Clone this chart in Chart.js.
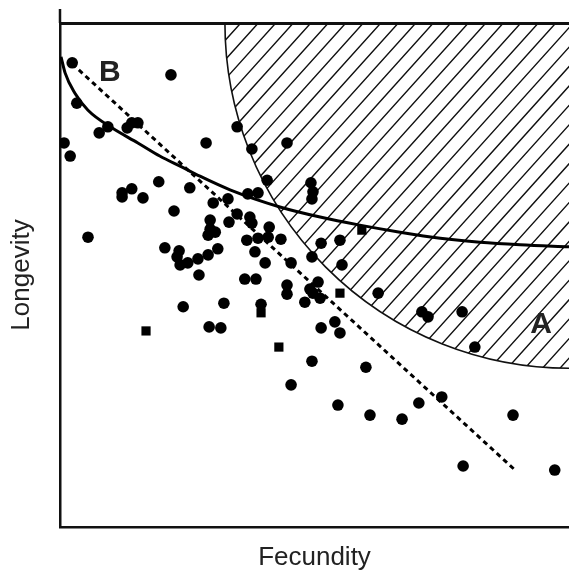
<!DOCTYPE html>
<html><head><meta charset="utf-8">
<script src="https://cdn.jsdelivr.net/npm/chart.js@4/dist/chart.umd.min.js"></script>
<style>html,body{margin:0;padding:0;background:#fff;overflow:hidden}#wrap{width:569px;height:573px}</style>
</head><body><div id="wrap"><canvas id="c" width="569" height="573"></canvas></div>
<script>
// Species (circles)
const circleFecundity = [0.24,2.18,0.33,0.08,0.20,0.77,0.94,1.32,1.41,1.53,3.48,2.87,4.46,3.77,4.07,1.94,2.55,1.22,1.22,1.41,1.63,3.69,3.89,4.93,4.97,4.95,3.01,3.30,2.24,0.55,2.95,2.95,3.05,2.91,3.32,3.48,3.73,3.77,4.11,3.67,3.89,4.09,4.34,2.06,2.34,2.30,2.51,2.36,2.71,2.91,3.10,3.83,4.03,4.54,2.73,3.63,3.85,4.46,4.46,5.13,5.50,4.95,5.54,4.91,5.07,4.97,4.81,5.11,6.25,2.42,3.22,3.95,2.93,3.16,5.40,5.13,5.50,4.95,6.01,4.54,5.46,6.09,6.72,7.05,7.50,7.11,7.23,7.90,8.15,8.90,7.92,9.72];
const circleLongevity = [9.21,8.97,8.41,7.62,7.36,7.82,7.94,7.92,8.02,8.02,7.94,7.62,7.62,7.50,6.88,6.85,6.73,6.63,6.55,6.71,6.53,6.61,6.63,6.83,6.65,6.51,6.43,6.51,6.27,5.75,6.09,5.91,5.85,5.79,6.05,6.21,6.15,6.03,5.95,5.69,5.73,5.75,5.71,5.54,5.48,5.36,5.24,5.20,5.32,5.40,5.52,5.46,5.24,5.24,5.00,4.92,4.92,4.80,4.62,5.63,5.69,5.36,5.20,4.72,4.86,4.64,4.46,4.54,4.64,4.37,4.44,4.42,3.97,3.95,4.07,3.95,3.85,3.29,3.17,2.82,2.42,2.22,2.14,2.46,2.58,4.27,4.17,4.27,3.57,2.22,1.21,1.13];
// Species (squares)
const squareFecundity = [5.93,5.50,3.95,1.69,4.30];
const squareLongevity = [5.89,4.64,4.25,3.89,3.57];
// Solid curve
const curveFecundity = [0.02,0.10,0.29,0.55,1.02,1.53,1.96,2.40,2.75,3.34,4.32,5.11,5.89,6.68,7.47,8.25,9.04,10.0];
const curveLongevity = [9.33,9.01,8.61,8.27,7.92,7.62,7.36,7.14,6.96,6.69,6.35,6.15,5.99,5.85,5.73,5.65,5.60,5.56];
// Dashed trend line end points
const trendFecundity = [0.24,8.94];
const trendLongevity = [9.19,1.13];
// Hatched region A (quarter ellipse at the top-right corner)
const regionA = {cx:10, cy:10, rx:6.76, ry:6.85};
// Region labels
const regionLabelText = ['A','B'];
const regionLabelX = [9.45,0.98];
const regionLabelY = [4.01,9.01];

const zip = (xs, ys) => xs.map((v,i)=>({x:v, y:ys[i]}));

const hatchPlugin = {
  id:'hatchA',
  beforeDatasetsDraw(chart){
    const {ctx, chartArea:a, scales:{x,y}} = chart;
    const cx = x.getPixelForValue(regionA.cx), cy = y.getPixelForValue(regionA.cy);
    const rx = Math.abs(x.getPixelForValue(regionA.cx - regionA.rx) - cx);
    const ry = Math.abs(y.getPixelForValue(regionA.cy - regionA.ry) - cy);
    ctx.save();
    ctx.beginPath(); ctx.rect(a.left, a.top, a.right-a.left, a.bottom-a.top); ctx.clip();
    ctx.save();
    ctx.beginPath(); ctx.ellipse(cx, cy, rx, ry, 0, 0, Math.PI*2); ctx.clip();
    ctx.strokeStyle = '#111'; ctx.lineWidth = 1.4;
    const H = a.bottom - a.top, k = Math.tan(48*Math.PI/180), step = 17.5;
    ctx.beginPath();
    for (let c = a.left - 2*H; c < a.right + 2*H; c += step){
      ctx.moveTo(c, a.bottom); ctx.lineTo(c + H/k, a.top);
    }
    ctx.stroke();
    ctx.restore();
    ctx.beginPath(); ctx.ellipse(cx, cy, rx, ry, 0, 0, Math.PI*2);
    ctx.lineWidth = 1.6; ctx.strokeStyle = '#111'; ctx.stroke();
    ctx.restore();
  }
};
const labelPlugin = {
  id:'regionLabels',
  afterDatasetsDraw(chart){
    const {ctx, scales:{x,y}} = chart;
    ctx.save();
    ctx.font = 'bold 30px "Liberation Sans", Arial, sans-serif';
    ctx.fillStyle = '#222'; ctx.textAlign='center'; ctx.textBaseline='middle';
    regionLabelText.forEach((t,i)=>{
      ctx.fillText(t, x.getPixelForValue(regionLabelX[i]), y.getPixelForValue(regionLabelY[i]));
    });
    ctx.restore();
  },
  afterDraw(chart){
    const {ctx, chartArea:a} = chart;
    ctx.save();
    ctx.strokeStyle='#111'; ctx.lineWidth=2.5;
    ctx.beginPath(); ctx.moveTo(a.left, a.top); ctx.lineTo(a.left, a.top-14); ctx.stroke();
    ctx.restore();
  }
};

new Chart(document.getElementById('c'), {
  type:'scatter',
  data:{datasets:[
    {data: zip(circleFecundity, circleLongevity), pointStyle:'circle', pointRadius:5.8, backgroundColor:'#000', borderColor:'#000', borderWidth:0},
    {data: zip(squareFecundity, squareLongevity), pointStyle:'rect', pointRadius:6.5, backgroundColor:'#000', borderColor:'#000', borderWidth:0},
    {data: zip(trendFecundity, trendLongevity), showLine:true, pointRadius:0, borderColor:'#000', borderWidth:3, borderDash:[5,4]},
    {data: zip(curveFecundity, curveLongevity), showLine:true, pointRadius:0, borderColor:'#000', borderWidth:3, cubicInterpolationMode:'monotone'}
  ]},
  options:{
    responsive:false, animation:false, devicePixelRatio:1,
    layout:{autoPadding:false, padding:{top:23, right:0, bottom:0, left:0}},
    plugins:{legend:{display:false}, tooltip:{enabled:false}},
    scales:{
      x:{type:'linear', position:'bottom', min:0, max:10,
        grid:{display:false, drawTicks:false}, ticks:{display:false},
        border:{display:true, color:'#111', width:2.5},
        title:{display:true, text:'Fecundity', color:'#222', font:{family:'"Liberation Sans", Arial, sans-serif', size:26, lineHeight:'30px'}, padding:{top:16, bottom:0}}},
      x2:{type:'linear', position:'top', min:0, max:10, display:true,
        grid:{display:false, drawTicks:false}, ticks:{display:false},
        border:{display:true, color:'#111', width:3}},
      y:{type:'linear', position:'left', min:0, max:10,
        grid:{display:false, drawTicks:false}, ticks:{display:false},
        border:{display:true, color:'#111', width:2.5},
        title:{display:true, text:'Longevity', color:'#222', font:{family:'"Liberation Sans", Arial, sans-serif', size:26, lineHeight:'30px'}, padding:{top:7, bottom:23}}}
    }
  },
  plugins:[hatchPlugin, labelPlugin]
});
</script></body></html>
